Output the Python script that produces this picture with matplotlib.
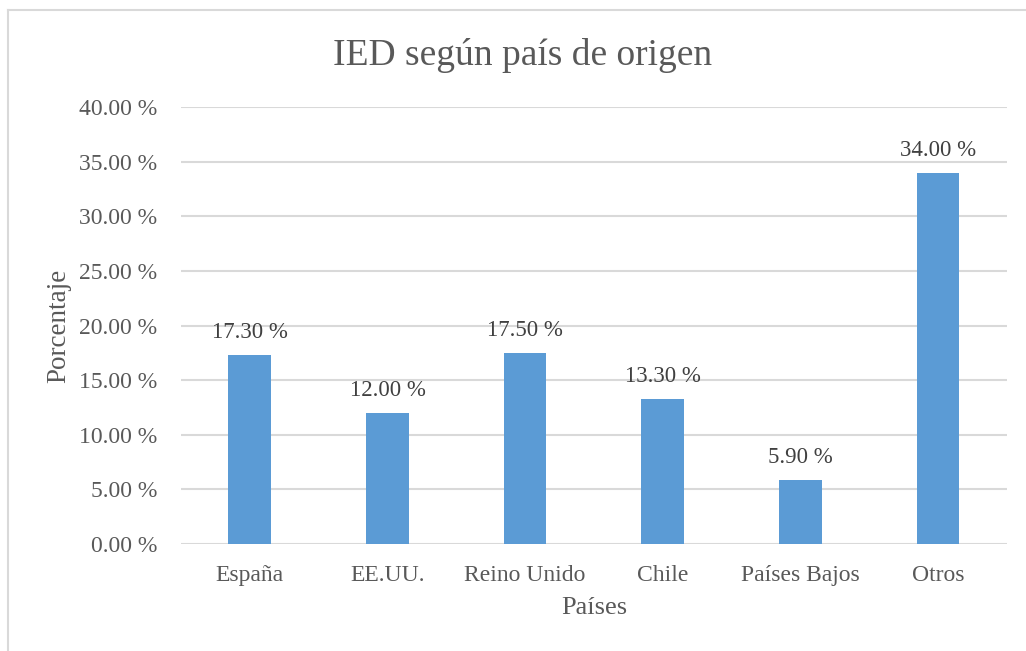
import matplotlib
matplotlib.use("Agg")
import matplotlib.pyplot as plt
from matplotlib.lines import Line2D

paises = ["España", "EE.UU.", "Reino Unido", "Chile", "Países Bajos", "Otros"]
porcentajes = [17.3, 12.0, 17.5, 13.3, 5.9, 34.0]
yticks = [0, 5, 10, 15, 20, 25, 30, 35, 40]

TXT = '#595959'
GRID = '#D9D9D9'
BAR = '#5B9BD5'

plt.rcParams['font.family'] = ['Liberation Serif', 'DejaVu Serif']

fig = plt.figure(figsize=(10.26, 6.51), dpi=100)
ax = fig.add_axes([0.1764, 0.1644, 0.805, 0.6712])

x = range(len(paises))
bars = ax.bar(x, porcentajes, width=0.31, color=BAR, zorder=3)
for b, v in zip(bars, porcentajes):
    ax.annotate(f"{v:.2f} %", (b.get_x() + b.get_width() / 2, v),
                xytext=(0, 16), textcoords='offset points',
                ha='center', va='center', fontsize=16.5, color='#404040')

ax.set_xlim(-0.5, len(paises) - 0.5)
ax.set_ylim(0, 40)
ax.set_yticks(yticks)
ax.set_yticklabels([f"{t:.2f} %" for t in yticks])
ax.set_xticks(list(x))
ax.set_xticklabels(paises)
ax.tick_params(length=0, labelsize=17, colors=TXT)
ax.tick_params(axis='y', pad=17)
ax.tick_params(axis='x', pad=15)
ax.grid(axis='y', color=GRID, lw=1.5, zorder=0)
for s in ax.spines.values():
    s.set_visible(False)

ax.set_ylabel("Porcentaje", fontsize=19.5, color=TXT, labelpad=6)
ax.set_xlabel("Países", fontsize=19, color=TXT, labelpad=8)
fig.text(0.509, 0.914, "IED según país de origen", ha='center', va='center',
         fontsize=27, color=TXT)

# chart frame (partially visible)
fig.add_artist(Line2D([0.0078, 0.0078], [0.0, 0.9846], color=GRID, lw=1.5,
                      transform=fig.transFigure))
fig.add_artist(Line2D([0.0078, 1.0], [0.9846, 0.9846], color=GRID, lw=1.5,
                      transform=fig.transFigure))

fig.savefig("out.png", dpi=100)
